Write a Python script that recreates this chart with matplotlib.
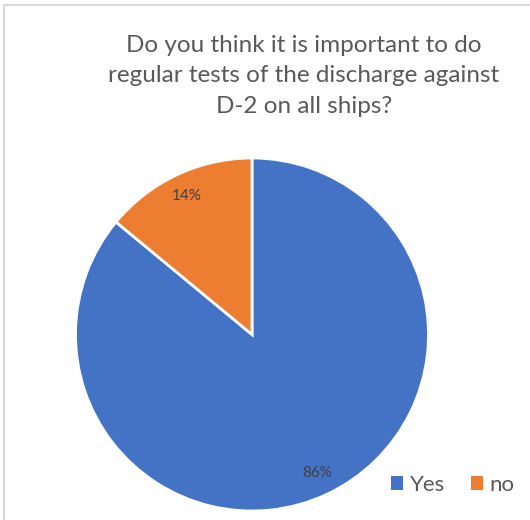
import matplotlib.pyplot as plt
from matplotlib.lines import Line2D
from matplotlib.patches import Patch

# survey answers
answers = ['Yes', 'no']
shares = [86, 14]
colors = ['#4472C4', '#ED7D31']
title = 'Do you think it is important to do\nregular tests of the discharge against\nD-2 on all ships?'

W, H = 530, 520
fig = plt.figure(figsize=(W / 100, H / 100), dpi=100, facecolor='w')
plt.rcParams['font.family'] = ['Lato', 'DejaVu Sans']

# pie centre (252, 334.5) px from top-left, radius ~176.5 px
cx, cy, r = 252, 334.5, 176.5
ax = fig.add_axes([(cx - r) / W, (H - cy - r) / H, 2 * r / W, 2 * r / H])
wedges, texts, autotexts = ax.pie(shares, colors=colors, startangle=90, counterclock=False,
                                  autopct='%d%%', pctdistance=0.87, radius=1,
                                  wedgeprops=dict(edgecolor='white', linewidth=2))
for t in autotexts:
    t.set_color('#404040')
    t.set_fontsize(11)
ax.set_xlim(-1, 1)
ax.set_ylim(-1, 1)
ax.set_aspect('equal')
ax.axis('off')

fig.text(304 / W, 1 - 76 / H, title, ha='center', va='center', fontsize=17.5,
         color='#595959', linespacing=1.55)

handles = [Patch(facecolor=c, edgecolor='none') for c in colors]
fig.legend(handles, answers, loc='center left', bbox_to_anchor=(371 / W, 1 - 485 / H),
           ncol=2, frameon=False, fontsize=16, handlelength=0.55, handleheight=0.55,
           handletextpad=0.3, columnspacing=1.15, labelcolor='#595959')

# chart frame (only left and top edges are visible in the crop)
fig.add_artist(Line2D([3.5 / W, 3.5 / W], [0, 1 - 4.5 / H], color='#d9d9d9', lw=1.5,
                      transform=fig.transFigure))
fig.add_artist(Line2D([3.5 / W, 1], [1 - 4.5 / H, 1 - 4.5 / H], color='#d9d9d9', lw=1.5,
                      transform=fig.transFigure))

fig.savefig('out.png', dpi=100)
